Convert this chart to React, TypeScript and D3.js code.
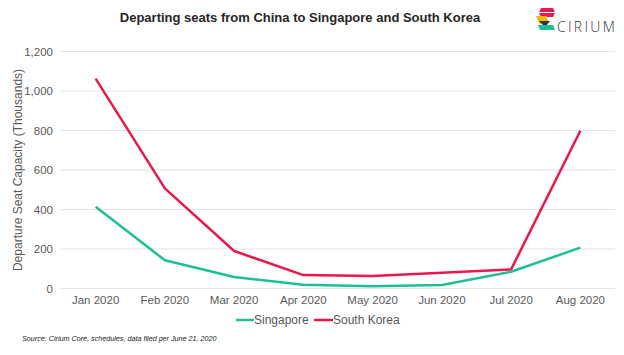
import React from "react";
import * as d3 from "d3";

const months = ["Jan 2020", "Feb 2020", "Mar 2020", "Apr 2020", "May 2020", "Jun 2020", "Jul 2020", "Aug 2020"];
const singapore = [414, 143, 58, 19, 11, 18, 85, 207];
const southKorea = [1063, 507, 190, 68, 63, 80, 97, 799];
const yTicks = [0, 200, 400, 600, 800, 1000, 1200];
const seriesNames = ["Singapore", "South Korea"];
const seriesColors = ["#1dbf97", "#e8194e"];

const W = 624;
const H = 355;
const left = 61;
const right = 615;
const top = 51.5;
const bottom = 288.5;

export default function App() {
  const x = d3.scalePoint<string>().domain(months).range([left, right]).padding(0.5);
  const y = d3.scaleLinear().domain([0, 1200]).range([bottom, top]);
  const line = d3
    .line<number>()
    .x((_, i) => x(months[i]) as number)
    .y((d) => y(d));
  const series = [singapore, southKorea];
  const font = "'Liberation Sans', Arial, sans-serif";
  const grey = "#595959";
  const fmt = d3.format(",");

  return (
    <svg
      width={W}
      height={H}
      style={{ position: "absolute", left: 0, top: 0, background: "#fff" }}
      fontFamily={font}
    >
      <rect width={W} height={H} fill="#fff" />
      <text x={300} y={22} textAnchor="middle" fontSize={13} fontWeight="bold" fill="#262626">
        Departing seats from China to Singapore and South Korea
      </text>

      {/* logo */}
      <g>
        <polygon points="541,8 553,8 555,12 539,12" fill="#e8194e" />
        <polygon points="539,13 555,13 553,17 541,17" fill="#e8194e" />
        <polygon points="536,16 547,16 540,25" fill="#f2b705" />
        <polygon points="546,17 549,22 543,22" fill="#f2b705" />
        <polygon points="539,21 550,21 545,27" fill="#333" />
        <polygon points="538,25 553,25 555,30 540,30" fill="#1dbf97" />
        <text x={557} y={32} fontSize={14} fill="#333" letterSpacing={2.3} fontFamily="'Open Sans', sans-serif" fontWeight={300}>
          CIRIUM
        </text>
      </g>

      {yTicks.map((t) => (
        <g key={t}>
          <line x1={left} x2={right} y1={y(t)} y2={y(t)} stroke="#e3e3e3" strokeWidth={1} />
          <text x={53} y={y(t)} dy="0.35em" textAnchor="end" fontSize={11.5} fill={grey}>
            {fmt(t)}
          </text>
        </g>
      ))}

      {months.map((m) => (
        <text key={m} x={x(m)} y={304} textAnchor="middle" fontSize={11.5} fill={grey}>
          {m}
        </text>
      ))}

      <text
        transform={`translate(22,${(top + bottom) / 2}) rotate(-90)`}
        textAnchor="middle"
        fontSize={12}
        fill={grey}
      >
        Departure Seat Capacity (Thousands)
      </text>

      {series.map((s, i) => (
        <path key={i} d={line(s) || ""} fill="none" stroke={seriesColors[i]} strokeWidth={2.5} strokeLinejoin="round" />
      ))}

      {/* legend */}
      <g>
        <line x1={236} x2={254} y1={320} y2={320} stroke={seriesColors[0]} strokeWidth={2.5} />
        <text x={254} y={320} dy="0.35em" fontSize={12} fill={grey}>{seriesNames[0]}</text>
        <line x1={314} x2={333} y1={320} y2={320} stroke={seriesColors[1]} strokeWidth={2.5} />
        <text x={333} y={320} dy="0.35em" fontSize={12} fill={grey}>{seriesNames[1]}</text>
      </g>

      <text x={22} y={341} fontSize={7.2} fontStyle="italic" fill="#222">
        Source: Cirium Core, schedules, data filed per June 21, 2020
      </text>
    </svg>
  );
}
